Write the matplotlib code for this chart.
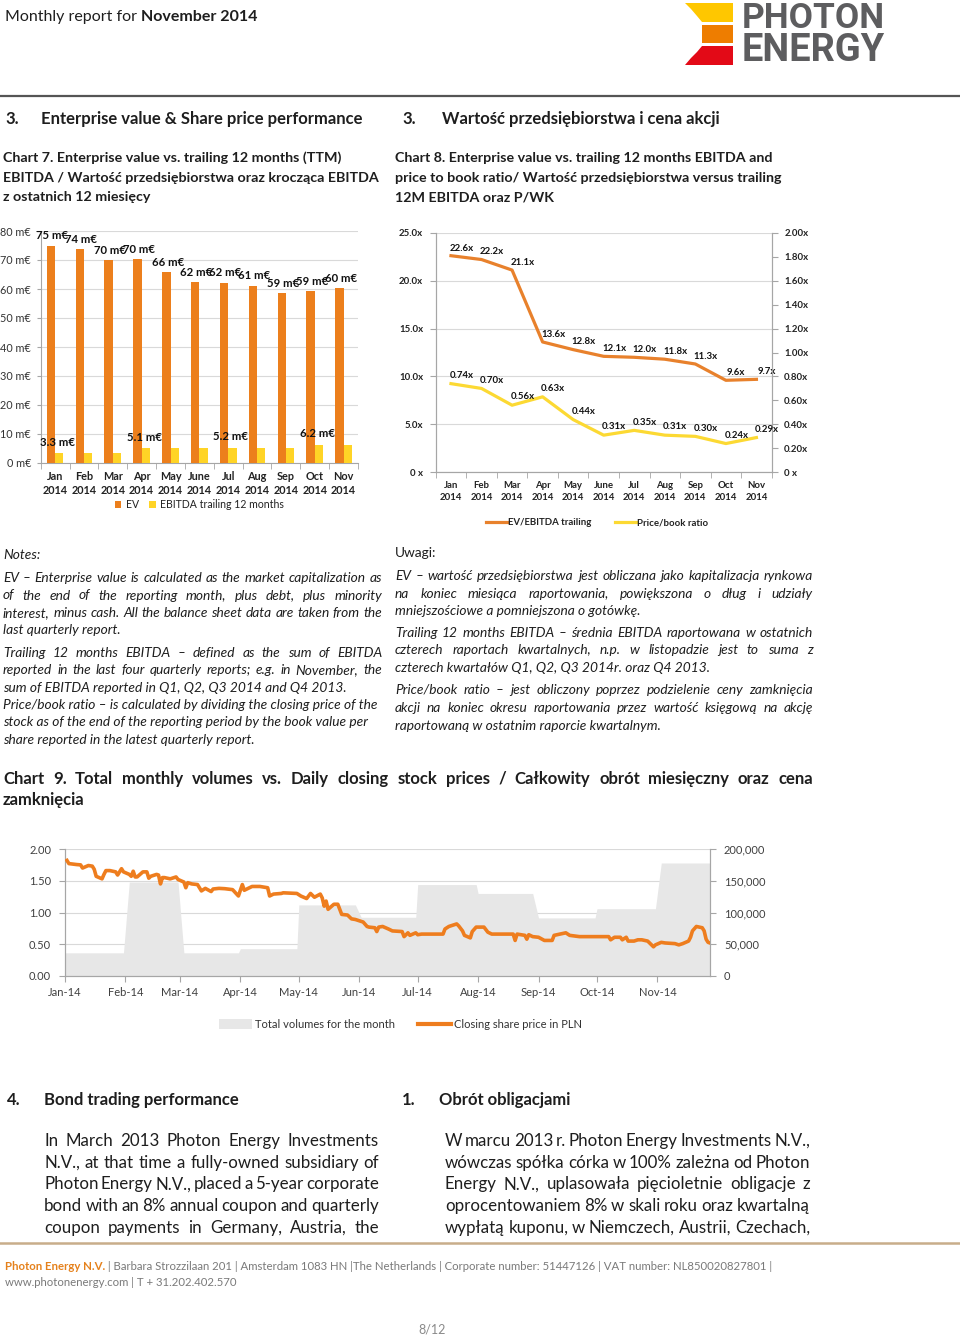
import matplotlib
matplotlib.use('Agg')
import matplotlib.pyplot as plt
import matplotlib.dates as mdates
from matplotlib.patches import Polygon, Rectangle, Patch
from matplotlib.lines import Line2D
import numpy as np
import pandas as pd

plt.rcParams['font.family'] = ['Lato', 'DejaVu Sans']

# ---------------- data ----------------
months = ['Jan\n2014', 'Feb\n2014', 'Mar\n2014', 'Apr\n2014', 'May\n2014', 'June\n2014',
          'Jul\n2014', 'Aug\n2014', 'Sep\n2014', 'Oct\n2014', 'Nov\n2014']
ev = [75.0, 73.7, 70.0, 70.2, 65.7, 62.4, 62.2, 61.2, 58.7, 59.3, 60.3]
ev_labels = ['75 m€', '74 m€', '70 m€', '70 m€', '66 m€', '62 m€', '62 m€', '61 m€', '59 m€', '59 m€', '60 m€']
ebitda = [3.3, 3.3, 3.3, 5.1, 5.1, 5.1, 5.2, 5.2, 5.2, 6.2, 6.2]
ebitda_labels = ['3.3 m€', '', '', '5.1 m€', '', '', '5.2 m€', '', '', '6.2 m€', '']
ev7_ticks = [0, 10, 20, 30, 40, 50, 60, 70, 80]

ev_ebitda = [22.6, 22.2, 21.1, 13.6, 12.8, 12.1, 12.0, 11.8, 11.3, 9.6, 9.7]
pb = [0.74, 0.70, 0.56, 0.63, 0.44, 0.31, 0.35, 0.31, 0.30, 0.24, 0.29]
ev_ebitda_ticks = [0, 5, 10, 15, 20, 25]
ev_ebitda_ticklabels = ['0 x', '5.0x', '10.0x', '15.0x', '20.0x', '25.0x']
pb_ticks = [0, 0.2, 0.4, 0.6, 0.8, 1.0, 1.2, 1.4, 1.6, 1.8, 2.0]
pb_ticklabels = ['0 x', '0.20x', '0.40x', '0.60x', '0.80x', '1.00x', '1.20x', '1.40x', '1.60x', '1.80x', '2.00x']

vol_months = ['2014-01', '2014-02', '2014-03', '2014-04', '2014-05', '2014-06',
              '2014-07', '2014-08', '2014-09', '2014-10', '2014-11']
volumes = [36500, 148000, 36500, 43000, 112000, 92500, 144000, 130000, 91500, 106000, 178000]

price_dates = [
    '2014-01-02', '2014-01-03', '2014-01-07', '2014-01-09', '2014-01-10', '2014-01-13', '2014-01-15',
    '2014-01-16', '2014-01-17', '2014-01-20', '2014-01-21', '2014-01-22', '2014-01-24', '2014-01-27',
    '2014-01-28', '2014-01-30', '2014-01-31',
    '2014-02-03', '2014-02-04', '2014-02-05', '2014-02-06', '2014-02-07', '2014-02-10', '2014-02-12',
    '2014-02-13', '2014-02-14', '2014-02-17', '2014-02-18', '2014-02-19', '2014-02-20', '2014-02-21',
    '2014-02-24', '2014-02-26', '2014-02-27', '2014-02-28',
    '2014-03-03', '2014-03-04', '2014-03-05', '2014-03-07', '2014-03-10', '2014-03-12', '2014-03-14',
    '2014-03-17', '2014-03-18', '2014-03-21', '2014-03-24', '2014-03-28', '2014-03-31',
    '2014-04-02', '2014-04-03', '2014-04-07', '2014-04-11', '2014-04-15', '2014-04-16', '2014-04-18',
    '2014-04-22', '2014-04-23', '2014-04-30',
    '2014-05-02', '2014-05-05', '2014-05-07', '2014-05-09', '2014-05-12', '2014-05-13', '2014-05-14',
    '2014-05-15', '2014-05-16', '2014-05-19', '2014-05-21', '2014-05-22', '2014-05-23', '2014-05-26',
    '2014-05-28', '2014-05-30',
    '2014-06-02', '2014-06-03', '2014-06-05', '2014-06-06', '2014-06-09', '2014-06-10', '2014-06-11',
    '2014-06-13', '2014-06-16', '2014-06-18', '2014-06-23', '2014-06-24', '2014-06-26', '2014-06-27',
    '2014-06-30',
    '2014-07-01', '2014-07-03', '2014-07-07', '2014-07-14', '2014-07-15', '2014-07-17', '2014-07-21',
    '2014-07-22', '2014-07-24', '2014-07-25', '2014-07-28', '2014-07-29', '2014-07-31',
    '2014-08-04', '2014-08-06', '2014-08-08', '2014-08-19', '2014-08-20', '2014-08-21', '2014-08-25',
    '2014-08-26', '2014-08-27', '2014-08-29',
    '2014-09-01', '2014-09-04', '2014-09-08', '2014-09-09', '2014-09-12', '2014-09-15', '2014-09-17',
    '2014-09-22',
    '2014-10-01', '2014-10-07', '2014-10-08', '2014-10-10', '2014-10-13', '2014-10-14', '2014-10-16',
    '2014-10-17', '2014-10-20', '2014-10-22', '2014-10-24', '2014-10-27', '2014-10-29', '2014-10-30',
    '2014-10-31',
    '2014-11-03', '2014-11-05', '2014-11-10', '2014-11-12', '2014-11-14', '2014-11-17', '2014-11-18',
    '2014-11-19', '2014-11-21', '2014-11-24', '2014-11-25', '2014-11-26', '2014-11-27', '2014-11-28']
price_values = [
    1.82, 1.77, 1.755, 1.75, 1.70, 1.74, 1.73,
    1.68, 1.57, 1.53, 1.60, 1.66, 1.66, 1.64,
    1.59, 1.69, 1.64,
    1.60, 1.57, 1.65, 1.56, 1.56, 1.64, 1.64,
    1.54, 1.57, 1.60, 1.59, 1.45, 1.55, 1.55,
    1.53, 1.55, 1.56, 1.52,
    1.48, 1.39, 1.47, 1.45, 1.44, 1.34, 1.38,
    1.33, 1.37, 1.38, 1.375, 1.36, 1.26,
    1.44, 1.35, 1.41, 1.41, 1.39, 1.26, 1.29,
    1.30, 1.31, 1.30,
    1.26, 1.22, 1.30, 1.24, 1.29, 1.23, 1.10,
    1.18, 1.05, 1.13, 1.13, 1.05, 0.97, 0.96,
    0.90, 0.89,
    0.86, 0.85, 0.78, 0.77, 0.76, 0.70, 0.77,
    0.78, 0.74, 0.71, 0.70, 0.62, 0.68, 0.64,
    0.68,
    0.65, 0.66, 0.66, 0.66, 0.74, 0.78, 0.82,
    0.79, 0.71, 0.64, 0.60, 0.70, 0.77,
    0.77, 0.69, 0.66, 0.66, 0.56, 0.66, 0.64,
    0.58, 0.65, 0.62,
    0.61, 0.56, 0.56, 0.64, 0.66, 0.68, 0.64,
    0.62,
    0.62, 0.62, 0.57, 0.61, 0.61, 0.57, 0.61,
    0.55, 0.55, 0.57, 0.57, 0.55, 0.49, 0.46,
    0.49,
    0.53, 0.52, 0.51, 0.49, 0.51, 0.55, 0.61,
    0.71, 0.78, 0.76, 0.71, 0.58, 0.53, 0.52]
price_ticks = [0, 0.5, 1.0, 1.5, 2.0]
vol_ticks = [0, 50000, 100000, 150000, 200000]

# ---------------- colours ----------------
C_OR = '#EC7F1C'
C_YE = '#FFD426'
C_OR_L = '#E8812C'
C_YE_L = '#FCD933'
C_PRICE = '#EE7D1E'
C_VOL = '#E7E7E7'
C_GRID = '#D9D9D9'
C_SPINE = '#A6A6A6'
C_TXT = '#1E1E1E'

# ---------------- page ----------------
W, H = 960, 1338
fig = plt.figure(figsize=(9.6, 13.38), dpi=100)
page = fig.add_axes([0, 0, 1, 1], zorder=-5)
page.set_xlim(0, W)
page.set_ylim(H, 0)
page.axis('off')
R = fig.canvas.get_renderer()


def ax_px(l, t, r, b):
    return fig.add_axes([l / W, 1 - b / H, (r - l) / W, (b - t) / H])


def tw(t):
    return t.get_window_extent(R).width


def ptext(x, y, s, **kw):
    kw.setdefault('va', 'center')
    kw.setdefault('color', C_TXT)
    return page.text(x, y, s, **kw)


def rich(x, y, parts):
    for s, kw in parts:
        t = ptext(x, y, s, **kw)
        x += tw(t)


def jline(x0, x1, y, s, justify=True, **kw):
    if not justify:
        ptext(x0, y, s, **kw)
        return
    words = s.split(' ')
    ts = [ptext(0, y, w, **kw) for w in words]
    ws = [tw(t) for t in ts]
    gap = (x1 - x0 - sum(ws)) / max(len(words) - 1, 1)
    x = x0
    for t, w in zip(ts, ws):
        t.set_x(x)
        x += w + gap


def para(x0, x1, y0, dy, lines, **kw):
    for i, (s, j) in enumerate(lines):
        jline(x0, x1, y0 + i * dy, s, justify=j, **kw)


# header
rich(5, 17, [('Monthly report for ', dict(fontsize=11.5)),
             ('November 2014', dict(fontsize=11.5, fontweight='bold'))])

# logo
page.add_patch(Polygon([(685, 3), (733, 3), (733, 22), (702, 22), (697, 16), (691, 9)],
                       closed=True, color='#FFC700', lw=0))
page.add_patch(Rectangle((702, 25), 31, 18, color='#EE7D00', lw=0))
page.add_patch(Polygon([(702, 46), (733, 46), (733, 65), (685, 65), (691, 58), (697, 52)],
                       closed=True, color='#E30A17', lw=0))
for word, yy in [('PHOTON', 18.5), ('ENERGY', 50.5)]:
    t = ptext(742, yy, word, fontsize=30, fontweight='bold', color='#5D5D5F', family=['Roboto', 'DejaVu Sans'])
    t.set_fontsize(30 * 143 / tw(t))

page.plot([0, 960], [96, 96], color='#555555', lw=1.6)

# section 3 headings
ptext(5, 119, '3.', fontsize=12, fontweight='bold')
ptext(41, 119, 'Enterprise value & Share price performance', fontsize=12, fontweight='bold')
ptext(402, 119, '3.', fontsize=12, fontweight='bold')
ptext(442, 119, 'Wartość przedsiębiorstwa i cena akcji', fontsize=12, fontweight='bold')

# chart titles
for i, s in enumerate(['Chart 7. Enterprise value vs. trailing 12 months (TTM)',
                       'EBITDA / Wartość przedsiębiorstwa oraz krocząca EBITDA',
                       'z ostatnich 12 miesięcy']):
    ptext(3, 158 + i * 19.5, s, fontsize=10.3, fontweight='bold')
for i, s in enumerate(['Chart 8. Enterprise value vs. trailing 12 months EBITDA and',
                       'price to book ratio/ Wartość przedsiębiorstwa versus trailing',
                       '12M EBITDA oraz P/WK']):
    ptext(395, 158 + i * 19.5, s, fontsize=10.3, fontweight='bold')

# ---------------- chart 7 ----------------
ax7 = ax_px(40.7, 231, 358, 463)
x = np.arange(len(months))
bw = 0.29
ax7.bar(x - bw / 2, ev, bw, color=C_OR, zorder=3, label='EV')
ax7.bar(x + bw / 2, ebitda, bw, color=C_YE, zorder=3, label='EBITDA trailing 12 months')
ax7.set_xlim(-0.5, len(months) - 0.5)
ax7.set_ylim(0, 80)
ax7.set_yticks(ev7_ticks)
ax7.set_yticklabels([f'{v} m€' for v in ev7_ticks], fontsize=7.8, color='#333333')
ax7.yaxis.grid(True, color=C_GRID, lw=0.8)
ax7.set_axisbelow(True)
ax7.set_xticks(x)
ax7.set_xticklabels(months, fontsize=7.8, fontweight='bold', linespacing=1.35, color='#222222')
ax7.set_xticks(np.arange(-0.5, len(months), 1), minor=True)
ax7.tick_params(axis='x', which='major', length=0, pad=6)
ax7.tick_params(axis='x', which='minor', length=4, color=C_SPINE)
ax7.tick_params(axis='y', length=3, color=C_SPINE, pad=4)
for s in ['top', 'right']:
    ax7.spines[s].set_visible(False)
for s in ['left', 'bottom']:
    ax7.spines[s].set_color(C_SPINE)
ax7.patch.set_alpha(0)
for xi, v, lb in zip(x, ev, ev_labels):
    ax7.annotate(lb, (xi - bw / 2, v), xytext=(1, 7), textcoords='offset points',
                 ha='center', va='center', fontsize=8.2, fontweight='bold', color='#111111')
for xi, v, lb in zip(x, ebitda, ebitda_labels):
    if lb:
        ax7.annotate(lb, (xi + bw / 2, v), xytext=(-1, 8), textcoords='offset points',
                     ha='center', va='center', fontsize=8.2, fontweight='bold', color='#111111')
ax7.legend(loc='center', bbox_to_anchor=(0.5, -0.181), ncol=2, frameon=False, fontsize=7.6,
           handlelength=0.6, handleheight=0.6, handletextpad=0.4, columnspacing=1.0,
           borderpad=0, labelcolor='#222222')

# ---------------- chart 8 ----------------
ax8 = ax_px(435.7, 232.7, 771.7, 472.3)
ax8b = ax8.twinx()
l1, = ax8.plot(x, ev_ebitda, color=C_OR_L, lw=2.3, label='EV/EBITDA trailing', zorder=3)
l2, = ax8b.plot(x, pb, color=C_YE_L, lw=2.3, label='Price/book ratio', zorder=3)
ax8.set_xlim(-0.45, len(months) - 0.55)
ax8.set_ylim(0, 25)
ax8b.set_ylim(0, 2)
ax8.set_yticks(ev_ebitda_ticks)
ax8.set_yticklabels(ev_ebitda_ticklabels, fontsize=6.9, fontweight='bold', color='#222222')
ax8b.set_yticks(pb_ticks)
ax8b.set_yticklabels(pb_ticklabels, fontsize=6.9, fontweight='bold', color='#222222')
ax8.yaxis.grid(True, color=C_GRID, lw=0.8)
ax8.set_axisbelow(True)
ax8.set_xticks(x)
ax8.set_xticklabels(months, fontsize=6.9, fontweight='bold', linespacing=1.5, color='#222222')
ax8.set_xticks(np.arange(-0.5, len(months), 1), minor=True)
ax8.tick_params(axis='x', which='major', length=0, pad=6)
ax8.tick_params(axis='x', which='minor', length=4, color=C_SPINE)
ax8.tick_params(axis='y', length=4, color=C_SPINE, pad=5)
ax8b.tick_params(axis='y', length=4, color=C_SPINE, pad=5)
for a in (ax8, ax8b):
    a.spines['top'].set_visible(False)
    for s in ['left', 'bottom', 'right']:
        a.spines[s].set_color(C_SPINE)
    a.patch.set_alpha(0)
for xi, v in zip(x, ev_ebitda):
    ax8.annotate(f'{v:.1f}x', (xi, v), xytext=(7.5, 5.5), textcoords='offset points',
                 ha='center', va='center', fontsize=6.9, fontweight='bold', color='#111111')
for xi, v in zip(x, pb):
    ax8b.annotate(f'{v:.2f}x', (xi, v), xytext=(7.5, 6), textcoords='offset points',
                  ha='center', va='center', fontsize=6.9, fontweight='bold', color='#111111')
ax8.legend(handles=[l1, l2], loc='center', bbox_to_anchor=(0.48, -0.21), ncol=2, frameon=False,
           prop=dict(size=6.9, weight='bold'), handlelength=2.2, handletextpad=0.1,
           columnspacing=2.4, borderpad=0, labelcolor='#222222')

# ---------------- notes ----------------
NS = 9.9
ptext(3, 555, 'Notes:', fontsize=NS, style='italic')
para(3, 382, 578, 17.5, [
    ('EV – Enterprise value is calculated as the market capitalization as', True),
    ('of the end of the reporting month, plus debt, plus minority', True),
    ('interest, minus cash. All the balance sheet data are taken from the', True),
    ('last quarterly report.', False)], fontsize=NS, style='italic')
para(3, 382, 653, 17.3, [
    ('Trailing 12 months EBITDA – defined as the sum of EBITDA', True),
    ('reported in the last four quarterly reports; e.g. in November, the', True),
    ('sum of EBITDA reported in Q1, Q2, Q3 2014 and Q4 2013.', False)], fontsize=NS, style='italic')
para(3, 382, 705, 17.5, [
    ('Price/book ratio – is calculated by dividing the closing price of the', False),
    ('stock as of the end of the reporting period by the book value per', False),
    ('share reported in the latest quarterly report.', False)], fontsize=NS, style='italic')

ptext(395, 553, 'Uwagi:', fontsize=NS)
para(395, 813, 576, 17.5, [
    ('EV – wartość przedsiębiorstwa jest obliczana jako kapitalizacja rynkowa', True),
    ('na koniec miesiąca raportowania, powiększona o dług i udziały', True),
    ('mniejszościowe a pomniejszona o gotówkę.', False)], fontsize=NS, style='italic')
para(395, 813, 633, 17.5, [
    ('Trailing 12 months EBITDA – średnia EBITDA raportowana w ostatnich', True),
    ('czterech raportach kwartalnych, n.p. w listopadzie jest to suma z', True),
    ('czterech kwartałów Q1, Q2, Q3 2014r. oraz Q4 2013.', False)], fontsize=NS, style='italic')
para(395, 813, 690, 18, [
    ('Price/book ratio – jest obliczony poprzez podzielenie ceny zamknięcia', True),
    ('akcji na koniec okresu raportowania przez wartość księgową na akcję', True),
    ('raportowaną w ostatnim raporcie kwartalnym.', False)], fontsize=NS, style='italic')

# chart 9 title
para(3, 813, 779, 21, [
    ('Chart 9. Total monthly volumes vs. Daily closing stock prices / Całkowity obrót miesięczny oraz cena', True),
    ('zamknięcia', False)], fontsize=12, fontweight='bold')

# ---------------- chart 9 ----------------
ax9 = ax_px(65, 849, 710, 976)
vx, vy = [], []
for m, v in zip(vol_months, volumes):
    days = pd.bdate_range(pd.Timestamp(m + '-01'), pd.Timestamp(m + '-01') + pd.offsets.MonthEnd(0))
    vx += [days[0], days[-1]]
    vy += [v, v]
ax9.fill_between(vx, vy, 0, color=C_VOL, lw=0, zorder=2)
ax9.set_ylim(0, 200000)
ax9.yaxis.grid(True, color=C_GRID, lw=0.8)
ax9.set_axisbelow(True)
ax9p = ax9.twinx()
pd_dates = pd.to_datetime(price_dates)
ax9p.plot(pd_dates, price_values, color=C_PRICE, lw=2.6, zorder=4, solid_joinstyle='round')
ax9p.set_ylim(0, 2)
# volume scale on the right, price scale on the left
ax9.yaxis.tick_right()
ax9.yaxis.set_label_position('right')
ax9p.yaxis.tick_left()
ax9p.yaxis.set_label_position('left')
ax9.set_yticks(vol_ticks)
ax9.set_yticklabels([f'{v:,}' for v in vol_ticks], fontsize=8, color='#404040')
ax9p.set_yticks(price_ticks)
ax9p.set_yticklabels([f'{v:.2f}' for v in price_ticks], fontsize=8, color='#404040')
ax9.set_xlim(pd.Timestamp('2014-01-01'), pd.Timestamp('2014-11-28'))
ax9.xaxis.set_major_locator(mdates.MonthLocator())
ax9.xaxis.set_major_formatter(mdates.DateFormatter('%b-%y'))
ax9.tick_params(axis='x', length=4, color=C_SPINE, pad=4, labelsize=8, labelcolor='#404040')
ax9.tick_params(axis='y', length=4, color=C_SPINE, pad=6)
ax9p.tick_params(axis='y', length=4, color=C_SPINE, pad=6)
for a in (ax9, ax9p):
    a.spines['top'].set_visible(False)
    for s in ['left', 'bottom', 'right']:
        a.spines[s].set_color(C_SPINE)
ax9p.patch.set_alpha(0)
ax9.patch.set_alpha(0)
h1 = Patch(facecolor=C_VOL, edgecolor='none', label='Total volumes for the month')
h2 = Line2D([], [], color=C_PRICE, lw=3, label='Closing share price in PLN')
ax9.legend(handles=[h1, h2], loc='center', bbox_to_anchor=(0.52, -0.38), ncol=2, frameon=False,
           fontsize=8, handlelength=3.0, handleheight=0.9, handletextpad=0.3, columnspacing=2.0,
           borderpad=0, labelcolor='#333333')

# ---------------- section 4 ----------------
ptext(7, 1100, '4.', fontsize=12, fontweight='bold')
ptext(44, 1100, 'Bond trading performance', fontsize=12, fontweight='bold')
ptext(402, 1100, '1.', fontsize=12, fontweight='bold')
ptext(439, 1100, 'Obrót obligacjami', fontsize=12, fontweight='bold')
para(44, 379, 1141, 21.7, [
    ('In March 2013 Photon Energy Investments', True),
    ('N.V., at that time a fully-owned subsidiary of', True),
    ('Photon Energy N.V., placed a 5-year corporate', True),
    ('bond with an 8% annual coupon and quarterly', True),
    ('coupon payments in Germany, Austria, the', True)], fontsize=12.2)
para(445, 810, 1141, 21.7, [
    ('W marcu 2013 r. Photon Energy Investments N.V.,', True),
    ('wówczas spółka córka w 100% zależna od Photon', True),
    ('Energy N.V., uplasowała pięcioletnie obligacje z', True),
    ('oprocentowaniem 8% w skali roku oraz kwartalną', True),
    ('wypłatą kuponu, w Niemczech, Austrii, Czechach,', True)], fontsize=12.2)

# footer
page.plot([0, 960], [1243, 1243], color='#C8AD8A', lw=1.8)
rich(5, 1267, [('Photon Energy N.V.', dict(fontsize=8.2, fontweight='bold', color='#E5811C')),
               (' | Barbara Strozzilaan 201 | Amsterdam 1083 HN |The Netherlands | Corporate number: 51447126 | VAT number: NL850020827801 |',
                dict(fontsize=8.2, color='#7A7A7A'))])
ptext(5, 1282, 'www.photonenergy.com | T + 31.202.402.570', fontsize=8.2, color='#7A7A7A')
ptext(432, 1330, '8/12', fontsize=9, color='#8A8A8A', ha='center')

fig.savefig('out.png', dpi=100)
